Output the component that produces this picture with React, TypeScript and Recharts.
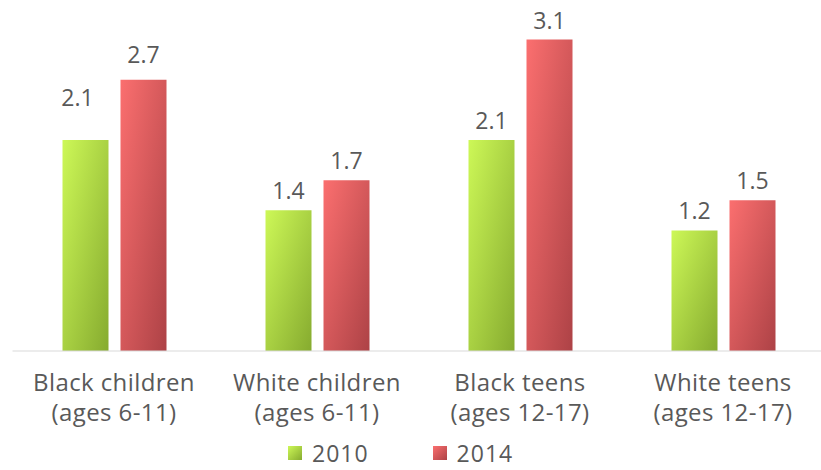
import React from 'react';
import { BarChart, Bar, XAxis, YAxis, LabelList, Legend } from 'recharts';

const categories = ['Black children|(ages 6-11)', 'White children|(ages 6-11)', 'Black teens|(ages 12-17)', 'White teens|(ages 12-17)'];
const values2010 = [2.1, 1.4, 2.1, 1.2];
const values2014 = [2.7, 1.7, 3.1, 1.5];

// hand placed label nudges in the source (first group only)
const lift2010 = [23, 0, 0, 0];
const shift2010 = [-8, 0, 0, 0];
const lift2014 = [6, 0, 0, 0];

const data = categories.map((name, i) => ({
    name,
    y2010: values2010[i],
    y2014: values2014[i]
}));

const TEXT = '#595959';
const FONT = '"Open Sans", sans-serif';

const CategoryTick = (props: any) => {
    const { x, y, payload } = props;
    const [l1, l2] = String(payload.value).split('|');
    return (
        <text x={x} y={y} textAnchor="middle" fill={TEXT} fontFamily={FONT} fontSize={24} letterSpacing={0.4}>
            <tspan x={x} dy={40}>{l1}</tspan>
            <tspan x={x} dy={30}>{l2}</tspan>
        </text>
    );
};

const makeLabel = (lift: number[], shift: number[]) => (props: any) => {
    const { x, y, width, value, index } = props;
    return (
        <text
            x={x + width / 2 + shift[index]}
            y={y - 11 - lift[index]}
            textAnchor="middle"
            fill={TEXT}
            fontFamily={FONT}
            fontSize={23}
        >
            {value}
        </text>
    );
};

const swatch = (from: string, to: string): React.CSSProperties => ({
    display: 'inline-block',
    width: 14,
    height: 14,
    background: `linear-gradient(135deg, ${from}, ${to})`,
    marginRight: 10
});

const LegendContent = () => (
    <div style={{ display: 'flex', alignItems: 'center', paddingLeft: 288, fontFamily: FONT, fontSize: 23, letterSpacing: 1, color: TEXT, lineHeight: '24px' }}>
        <span style={swatch('#cdf857', '#86ab2f')} />
        <span style={{ marginRight: 64 }}>2010</span>
        <span style={swatch('#fb6f6f', '#ad4246')} />
        <span>2014</span>
    </div>
);

const App: React.FC = () => (
    <div style={{ position: 'absolute', left: 0, top: 0, background: '#fff' }}>
        <BarChart
            width={821}
            height={470}
            data={data}
            margin={{ top: 39.5, right: -3.5, bottom: 19, left: 12.5 }}
            barSize={46}
            barGap={12}
        >
            <defs>
                <linearGradient id="g2010" x1="0" y1="0" x2="1" y2="1">
                    <stop offset="0%" stopColor="#cdf857" />
                    <stop offset="100%" stopColor="#86ab2f" />
                </linearGradient>
                <linearGradient id="g2014" x1="0" y1="0" x2="1" y2="1">
                    <stop offset="0%" stopColor="#fb6f6f" />
                    <stop offset="100%" stopColor="#ad4246" />
                </linearGradient>
            </defs>
            <XAxis
                dataKey="name"
                height={100}
                tickLine={false}
                tickSize={0}
                tickMargin={0}
                axisLine={{ stroke: '#d9d9d9' }}
                tick={<CategoryTick />}
                interval={0}
            />
            <YAxis hide domain={[0, 3.1]} />
            <Legend
                layout="horizontal"
                verticalAlign="middle"
                align="center"
                wrapperStyle={{ top: 441, left: 0, width: 821 }}
                content={<LegendContent />}
            />
            <Bar dataKey="y2010" name="2010" fill="url(#g2010)" isAnimationActive={false}>
                <LabelList dataKey="y2010" content={makeLabel(lift2010, shift2010)} />
            </Bar>
            <Bar dataKey="y2014" name="2014" fill="url(#g2014)" isAnimationActive={false}>
                <LabelList dataKey="y2014" content={makeLabel(lift2014, [0, 0, 0, 0])} />
            </Bar>
        </BarChart>
    </div>
);

export default App;
